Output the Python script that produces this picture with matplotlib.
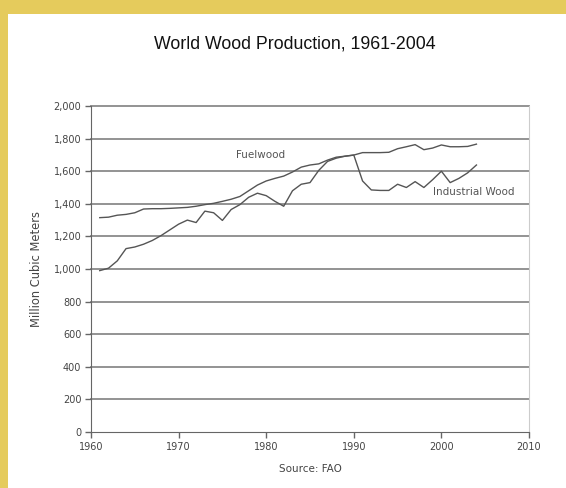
import matplotlib
matplotlib.use("Agg")
import matplotlib.pyplot as plt
from matplotlib.patches import Rectangle

years = list(range(1961, 2005))
fuelwood = [1315, 1318, 1330, 1335, 1345, 1368, 1370, 1370, 1372, 1375,
            1378, 1385, 1395, 1403, 1415, 1428, 1445, 1480, 1515, 1540,
            1556, 1570, 1595, 1625, 1638, 1645, 1668, 1686, 1692, 1699,
            1714, 1714, 1714, 1716, 1738, 1750, 1763, 1732, 1742, 1761,
            1750, 1750, 1752, 1766]
industrial = [990, 1005, 1050, 1125, 1135, 1152, 1175, 1205, 1240, 1275,
              1300, 1285, 1355, 1345, 1298, 1365, 1395, 1440, 1465, 1450,
              1415, 1385, 1480, 1520, 1530, 1605, 1660, 1680, 1692, 1699,
              1540, 1485, 1482, 1482, 1520, 1500, 1536, 1500, 1548, 1600,
              1530, 1556, 1590, 1638]
x_ticks = [1960, 1970, 1980, 1990, 2000, 2010]
y_ticks = list(range(0, 2001, 200))

plt.rcParams['font.family'] = ['Liberation Sans', 'DejaVu Sans']
small = ['DejaVu Sans']

fig = plt.figure(figsize=(5.66, 4.88), dpi=100)
fig.patch.set_facecolor('#e5cb5c')
fig.patches.append(Rectangle((8 / 566, 0), 1, (488 - 14) / 488,
                             transform=fig.transFigure, facecolor='white',
                             edgecolor='none', zorder=-1))

ax = fig.add_axes([91 / 566, 56 / 488, 438 / 566, 326 / 488])
ax.set_facecolor('white')

# horizontal gridlines, drawn by hand so the 2,000 line is not clipped
for v in y_ticks[1:]:
    ax.axhline(v, color='#8a8a8a', linewidth=1.3, zorder=1, clip_on=False)

ax.plot(years, fuelwood, color='#555555', linewidth=1.0, zorder=3)
ax.plot(years, industrial, color='#555555', linewidth=1.0, zorder=3)

ax.text(1979.4, 1699, 'Fuelwood', fontsize=7.5, family=small,
        color='#555555', ha='center', va='center')
ax.text(1999.0, 1470, 'Industrial Wood', fontsize=7.5, family=small,
        color='#555555', ha='left', va='center')

ax.set_xlim(1960, 2010)
ax.set_ylim(0, 2000)
ax.set_xticks(x_ticks)
ax.set_yticks(y_ticks)
ax.set_yticklabels(['{:,}'.format(v) for v in y_ticks])
ax.tick_params(axis='both', direction='out', length=4, width=1,
               color='#666666', labelsize=7, labelcolor='#444444', pad=3)
for lbl in ax.get_xticklabels() + ax.get_yticklabels():
    lbl.set_family(small)

ax.spines['top'].set_visible(False)
ax.spines['right'].set_color('#cccccc')
ax.spines['left'].set_color('#666666')
ax.spines['bottom'].set_color('#666666')

ax.set_xlabel('Source: FAO', fontsize=7.5, family=small, color='#444444')
ax.xaxis.set_label_coords(0.5, -0.097)
ax.set_ylabel('Million Cubic Meters', fontsize=8.3, family=small,
              color='#444444')
ax.yaxis.set_label_coords(-0.11, 0.5)
fig.text(295 / 566, 1 - 44 / 488, 'World Wood Production, 1961-2004',
         fontsize=12.8, color='#111111', ha='center', va='center')

fig.savefig('out.png', dpi=100, facecolor=fig.get_facecolor())
